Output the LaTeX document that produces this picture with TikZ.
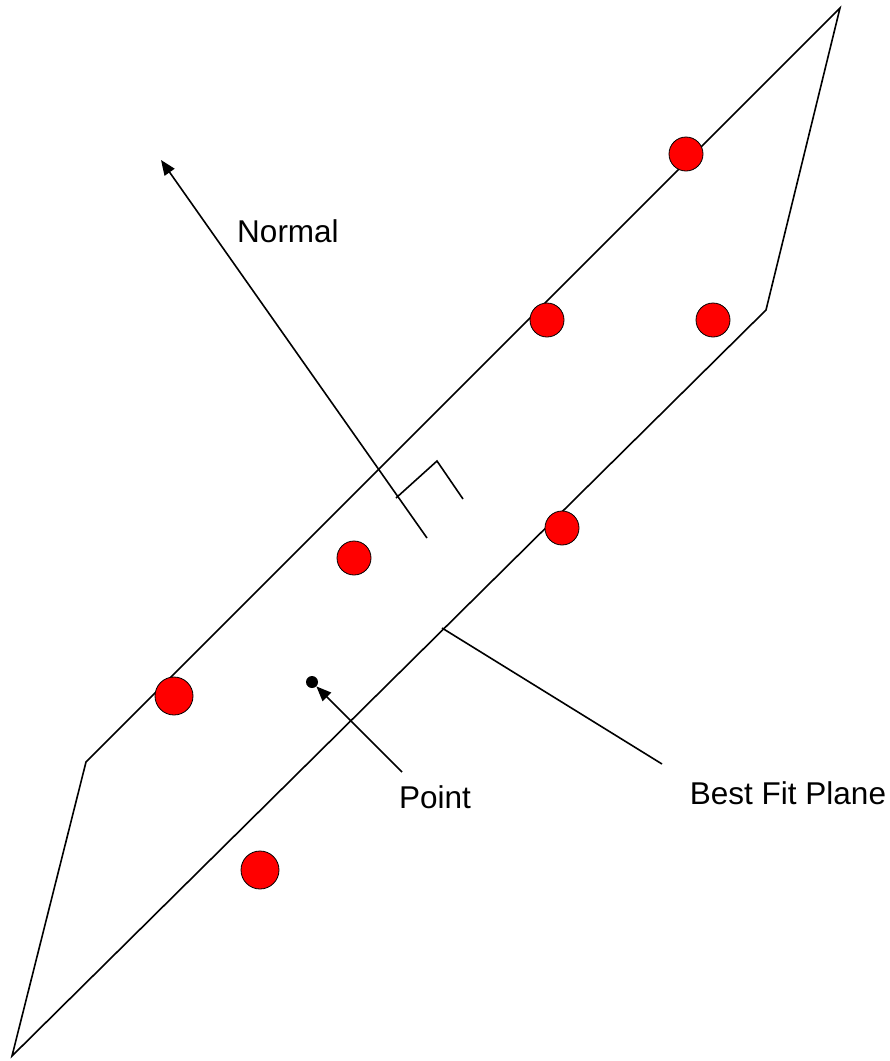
\documentclass[tikz,border=0pt]{standalone}
\usepackage{fontspec}
\setmainfont{Liberation Sans}
\usetikzlibrary{arrows.meta}
\begin{document}
\begin{tikzpicture}[x=1pt,y=-1pt,
  edge/.style={line width=1.6pt,line join=miter},
  sample/.style={circle,draw=black,line width=0.8pt,fill=red,minimum size=34pt,inner sep=0pt},
  lbl/.style={font=\fontsize{31.5}{38}\selectfont,inner sep=0pt},
  tip/.style={-{Triangle[length=15pt,width=12pt]}}]
\useasboundingbox (0,0) rectangle (890,1061);
% plane
\coordinate (tr) at (840,8);
\coordinate (lc) at (86,762);
\coordinate (bl) at (12,1056);
\coordinate (rc) at (766,310);
\draw[edge] (lc) -- (tr) -- (rc) -- (bl) -- cycle;
% samples
\node[sample] (s1) at (686,154) {};
\node[sample] (s2) at (547,320) {};
\node[sample] (s3) at (713,320) {};
\node[sample] (s4) at (562,528) {};
\node[sample] (s5) at (354,558) {};
\node[sample,minimum size=38pt] (s6) at (174,696) {};
\node[sample,minimum size=38pt] (s7) at (260,870) {};
% normal
\coordinate (nbase) at (427,538);
\coordinate (ntip) at (161,160);
\draw[edge,tip] (nbase) -- (ntip);
% right-angle mark
\coordinate (ra1) at (396,498);
\coordinate (ra2) at (437,461);
\coordinate (ra3) at (463,499);
\draw[edge] (ra1) -- (ra2) -- (ra3);
% point
\node[circle,fill=black,inner sep=0pt,minimum size=12pt] (pt) at (312,682) {};
\coordinate (pfrom) at (402,772);
\draw[edge,tip] (pfrom) -- (pt.south east);
% best fit plane leader
\coordinate (bf1) at (442,628);
\coordinate (bf2) at (662,764);
\draw[edge] (bf1) -- (bf2);
% labels
\node[lbl] (normal) at (288,231) {Normal};
\node[lbl] (point) at (435,797) {Point};
\node[lbl] (bfp) at (788,793) {Best Fit Plane};
\end{tikzpicture}
\end{document}
